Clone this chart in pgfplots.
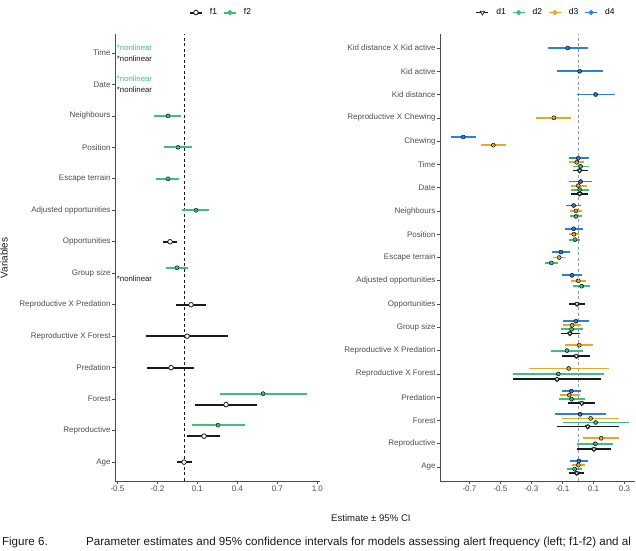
\documentclass[border=0pt]{standalone}
\usepackage{pgfplots}
\pgfplotsset{compat=1.18}
\usepackage{pgfplotstable}
\usepackage{fontspec}
\setmainfont{Liberation Sans}
\definecolor{cgreen}{HTML}{3DBF7E}
\definecolor{corange}{HTML}{E8A824}
\definecolor{cblue}{HTML}{2A80DC}
\definecolor{cblack}{HTML}{1A1A1A}
\definecolor{axgray}{HTML}{4D4D4D}

% left panel: alert frequency
\pgfplotstableread{
y est lo hi
8 -0.105 -0.158 -0.0525
6 0.0525 -0.06 0.165
5 0.0225 -0.285 0.33
4 -0.0975 -0.278 0.075
2.825 0.315 0.0825 0.548
1.825 0.15 0.0225 0.27
1 0 -0.0525 0.06
}\fone
\pgfplotstableread{
y est lo hi
12 -0.12 -0.225 -0.0225
11 -0.045 -0.15 0.06
10 -0.12 -0.21 -0.0375
9 0.09 -0.015 0.1875
7.175 -0.0525 -0.135 0.03
3.175 0.593 0.27 0.923
2.175 0.255 0.06 0.458
}\ftwo

% right panel: alert duration
\pgfplotstableread{
y est lo hi
13.7375 0.011 -0.03 0.066
12.7375 0.011 -0.043 0.066
8 -0.006 -0.06 0.045
6.7375 -0.052 -0.112 0.011
5.7667 -0.011 -0.103 0.079
4.7667 -0.135 -0.419 0.146
3.7375 0.024 -0.065 0.11
2.7375 0.063 -0.137 0.266
1.7667 0.103 -0.006 0.211
0.7375 -0.008 -0.056 0.039
}\done
\pgfplotstableread{
y est lo hi
13.9125 0.017 -0.034 0.071
12.9125 0.011 -0.047 0.069
11.7667 -0.013 -0.05 0.028
10.7667 -0.019 -0.056 0.015
9.7667 -0.172 -0.213 -0.129
8.7667 0.024 -0.034 0.079
6.9125 -0.041 -0.11 0.03
6 -0.071 -0.174 0.03
5 -0.127 -0.419 0.166
3.9125 -0.041 -0.125 0.045
2.9125 0.114 -0.097 0.329
2 0.112 -0.006 0.228
0.9125 -0.021 -0.069 0.024
}\dtwo
\pgfplotstableread{
y est lo hi
16 -0.155 -0.271 -0.045
14.825 -0.546 -0.626 -0.466
14.0875 -0.008 -0.056 0.039
13.0875 0.002 -0.043 0.056
12 -0.013 -0.05 0.024
11 -0.026 -0.06 0.006
10 -0.121 -0.159 -0.079
9 0.002 -0.047 0.054
7.0875 -0.037 -0.095 0.021
6.2333 0.008 -0.082 0.099
5.2333 -0.06 -0.316 0.198
4.0875 -0.056 -0.116 0.011
3.0875 0.082 -0.101 0.266
2.2333 0.15 0.034 0.266
1.0875 0.002 -0.039 0.043
}\dthree
\pgfplotstableread{
y est lo hi
19 -0.066 -0.192 0.063
18 0.011 -0.137 0.163
17 0.114 -0.008 0.239
15.175 -0.74 -0.821 -0.658
14.2625 0.002 -0.06 0.069
13.2625 0.017 -0.056 0.09
12.2333 -0.028 -0.077 0.021
11.2333 -0.028 -0.082 0.03
10.2333 -0.11 -0.168 -0.052
9.2333 -0.039 -0.103 0.026
7.2625 -0.013 -0.095 0.069
4.2625 -0.043 -0.105 0.021
3.2625 0.015 -0.146 0.183
1.2625 0.006 -0.05 0.065
}\dfour

\pgfplotsset{
  myaxis/.style={
    scale only axis, anchor=south west, enlargelimits=false,
    axis x line*=bottom, axis y line*=left,
    axis line style={black!70, line width=0.6bp},
    tick style={black!70, line width=0.6bp},
    tick align=outside, major tick length=2.8bp,
    xtick pos=bottom, ytick pos=left,
    tick label style={font=\fontsize{8bp}{9bp}\selectfont, text=axgray},
    yticklabel style={inner sep=1.5bp},
    xticklabel style={inner sep=1.5bp},
    legend style={draw=none, fill=none, legend columns=-1,
      font=\fontsize{8.5bp}{10bp}\selectfont,
      /tikz/every even column/.append style={column sep=4bp},
      inner sep=0pt},
    legend image code/.code={
      \draw[##1, mark=none] (0bp,0bp) -- (12bp,0bp);
      \draw[##1] plot coordinates {(6bp,0bp)};
      \path (17bp,0bp);
    },
  },
  ebar/.style 2 args={only marks, mark=none, forget plot,
    error bars/.cd, x dir=both, x explicit, error mark=none,
    error bar style={line width=#2, color=#1, solid}},
}

\begin{document}
\begin{tikzpicture}
\useasboundingbox (0,0) rectangle (636bp,551bp);

% ---------------- left panel ----------------
\begin{axis}[myaxis,
  at={(115bp,70bp)}, width=205bp, height=447bp,
  xmin=-0.518, xmax=1.02, ymin=0.4, ymax=14.6,
  xtick={-0.5,-0.2,0.1,0.4,0.7,1.0},
  xticklabels={-0.5,-0.2,0.1,0.4,0.7,1.0},
  ytick={1,2,3,4,5,6,7,8,9,10,11,12,13,14},
  yticklabels={Age,Reproductive,Forest,Predation,Reproductive X Forest,Reproductive X Predation,Group size,Opportunities,Adjusted opportunities,Escape terrain,Position,Neighbours,Date,Time},
  legend style={at={(0.517,1.048)}, anchor=center},
]
\addlegendimage{cblack, line width=2bp, mark=*, mark size=2.3bp, mark options={fill=white, draw=cblack, line width=0.8bp, solid}}
\addlegendentry{f1}
\addlegendimage{cgreen, line width=2bp, mark=*, mark size=1.6bp, mark options={fill=cgreen, draw=cgreen, solid}}
\addlegendentry{f2}
\addplot[cblack, line width=0.9bp, dash pattern=on 3bp off 2.5bp, forget plot] coordinates {(0,0.4) (0,14.6)};
\addplot[ebar={cblack}{2.2bp}] table[x=est, y=y, x error plus expr=\thisrow{hi}-\thisrow{est}, x error minus expr=\thisrow{est}-\thisrow{lo}] {\fone};
\addplot[ebar={cgreen}{2.2bp}] table[x=est, y=y, x error plus expr=\thisrow{hi}-\thisrow{est}, x error minus expr=\thisrow{est}-\thisrow{lo}] {\ftwo};
\addplot[only marks, mark=*, mark size=2.3bp, mark options={fill=white, draw=cblack, line width=0.8bp}, forget plot] table[x=est, y=y] {\fone};
\addplot[only marks, mark=*, mark size=1.6bp, mark options={fill=cgreen, draw=cgreen}, forget plot] table[x=est, y=y] {\ftwo};
\node[anchor=west, inner sep=0pt, font=\fontsize{7.8bp}{8bp}\selectfont, text=cgreen] at (axis cs:-0.505,14.175) {*nonlinear};
\node[anchor=west, inner sep=0pt, font=\fontsize{7.8bp}{8bp}\selectfont, text=cblack] at (axis cs:-0.505,13.825) {*nonlinear};
\node[anchor=west, inner sep=0pt, font=\fontsize{7.8bp}{8bp}\selectfont, text=cgreen] at (axis cs:-0.505,13.175) {*nonlinear};
\node[anchor=west, inner sep=0pt, font=\fontsize{7.8bp}{8bp}\selectfont, text=cblack] at (axis cs:-0.505,12.825) {*nonlinear};
\node[anchor=west, inner sep=0pt, font=\fontsize{7.8bp}{8bp}\selectfont, text=cblack] at (axis cs:-0.505,6.825) {*nonlinear};
\end{axis}

% ---------------- right panel ----------------
\begin{axis}[myaxis,
  at={(440bp,70bp)}, width=195.3bp, height=447bp,
  xmin=-0.89, xmax=0.37, ymin=0.4, ymax=19.6,
  xtick={-0.7,-0.5,-0.3,-0.1,0.1,0.3},
  xticklabels={-0.7,-0.5,-0.3,-0.1,0.1,0.3},
  ytick={1,2,3,4,5,6,7,8,9,10,11,12,13,14,15,16,17,18,19},
  yticklabels={Age,Reproductive,Forest,Predation,Reproductive X Forest,Reproductive X Predation,Group size,Opportunities,Adjusted opportunities,Escape terrain,Position,Neighbours,Date,Time,Chewing,Reproductive X Chewing,Kid distance,Kid active,Kid distance X Kid active},
  legend style={at={(0.543,1.048)}, anchor=center},
]
\addlegendimage{cblack, line width=1.8bp, mark=triangle*, mark size=2.4bp, mark options={rotate=180, fill=white, draw=cblack, line width=0.7bp, solid}}
\addlegendentry{d1}
\addlegendimage{cgreen, line width=1.8bp, mark=*, mark size=1.5bp, mark options={fill=cgreen, draw=cgreen, solid}}
\addlegendentry{d2}
\addlegendimage{corange, line width=1.8bp, mark=*, mark size=1.5bp, mark options={fill=corange, draw=corange, solid}}
\addlegendentry{d3}
\addlegendimage{cblue, line width=1.8bp, mark=*, mark size=1.5bp, mark options={fill=cblue, draw=cblue, solid}}
\addlegendentry{d4}
\addplot[gray!80, line width=0.8bp, dash pattern=on 3bp off 2.5bp, forget plot] coordinates {(0,0.4) (0,19.6)};
\addplot[ebar={cblack}{1.8bp}] table[x=est, y=y, x error plus expr=\thisrow{hi}-\thisrow{est}, x error minus expr=\thisrow{est}-\thisrow{lo}] {\done};
\addplot[ebar={cgreen}{1.8bp}] table[x=est, y=y, x error plus expr=\thisrow{hi}-\thisrow{est}, x error minus expr=\thisrow{est}-\thisrow{lo}] {\dtwo};
\addplot[ebar={corange}{1.8bp}] table[x=est, y=y, x error plus expr=\thisrow{hi}-\thisrow{est}, x error minus expr=\thisrow{est}-\thisrow{lo}] {\dthree};
\addplot[ebar={cblue}{1.8bp}] table[x=est, y=y, x error plus expr=\thisrow{hi}-\thisrow{est}, x error minus expr=\thisrow{est}-\thisrow{lo}] {\dfour};
\addplot[only marks, mark=triangle*, mark size=2.4bp, mark options={rotate=180, fill=white, draw=cblack, line width=0.7bp}, forget plot] table[x=est, y=y] {\done};
\addplot[only marks, mark=*, mark size=1.5bp, mark options={fill=cgreen, draw=cgreen}, forget plot] table[x=est, y=y] {\dtwo};
\addplot[only marks, mark=*, mark size=1.5bp, mark options={fill=corange, draw=corange}, forget plot] table[x=est, y=y] {\dthree};
\addplot[only marks, mark=*, mark size=1.5bp, mark options={fill=cblue, draw=cblue}, forget plot] table[x=est, y=y] {\dfour};
\end{axis}

% ---------------- titles and caption ----------------
\node[rotate=90, font=\fontsize{10bp}{12bp}\selectfont, text=cblack] at (4bp,293bp) {Variables};
\node[anchor=base west, inner sep=0pt, font=\fontsize{9.6bp}{11bp}\selectfont, text=cblack] at (331bp,29.5bp) {Estimate ± 95\% CI};
\node[anchor=base east, inner sep=0pt, font=\fontsize{11.6bp}{14bp}\selectfont, text=cblack] at (48bp,6bp) {Figure 6.};
\node[anchor=base west, inner sep=0pt, font=\fontsize{11.6bp}{14bp}\selectfont, text=cblack] at (86bp,6bp) {Parameter estimates and 95\% confidence intervals for models assessing alert frequency (left; f1-f2) and al};
\end{tikzpicture}
\end{document}
